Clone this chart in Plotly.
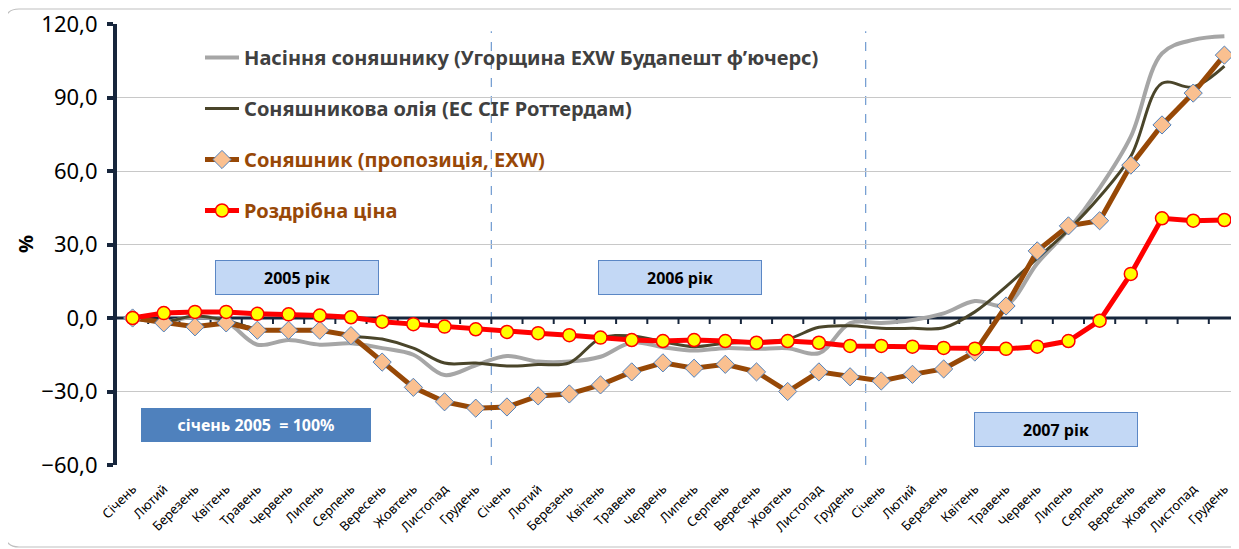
import plotly.graph_objects as go

months = ["Січень", "Лютий", "Березень", "Квітень", "Травень", "Червень", "Липень",
          "Серпень", "Вересень", "Жовтень", "Листопад", "Грудень"]
categories = months * 3

seeds = [0, -1.6, 0.5, -1.6, -10.9, -9.0, -10.9, -10.3, -12.3, -15.0, -23.3, -19.3,
         -15.5, -17.8, -17.8, -15.8, -10.0, -11.9, -13.3, -12.3, -12.6, -12.3, -14.4, -2.1,
         -2.0, -0.8, 1.9, 6.9, 5.3, 22.3, 36.0, 53.0, 74.0, 108.0, 113.5, 115.0]
oil = [0, -1.5, 0.8, -1.0, -4.5, -4.8, -5.0, -7.3, -8.6, -12.3, -18.4, -18.4,
       -19.6, -19.0, -18.3, -8.3, -7.3, -9.7, -11.7, -10.3, -9.7, -8.6, -3.8, -3.2,
       -4.2, -4.2, -4.0, 2.5, 12.8, 24.3, 35.9, 49.5, 66.0, 95.8, 94.3, 102.8]
sunflower = [0, -2.0, -3.6, -2.0, -5.0, -5.0, -5.0, -7.2, -18.0, -28.3, -34.2, -36.8,
             -36.3, -31.8, -31.0, -27.3, -22.0, -18.3, -20.5, -18.9, -22.0, -30.0, -22.0, -24.0,
             -25.7, -23.0, -20.8, -13.9, 4.9, 27.4, 37.6, 39.7, 62.4, 78.8, 91.8, 107.3]
retail = [0, 2.0, 2.5, 2.5, 1.7, 1.5, 1.0, 0.3, -1.5, -2.5, -3.5, -4.6,
          -5.7, -6.2, -7.0, -8.0, -9.0, -9.4, -9.0, -9.4, -10.1, -9.4, -10.1, -11.4,
          -11.4, -11.7, -12.2, -12.5, -12.6, -11.7, -9.4, -1.1, 18.0, 40.7, 39.7, 40.0]

names = ["Насіння соняшнику (Угорщина EXW Будапешт ф’ючерс)",
         "Соняшникова олія (ЕС CIF Роттердам)",
         "Соняшник (пропозиція, EXW)",
         "Роздрібна ціна"]
year_labels = ["2005 рік", "2006 рік", "2007 рік"]
base_label = "січень 2005  = 100%"
y_ticks = [-60, -30, 0, 30, 60, 90, 120]

W, H = 1239, 549
OFF = 8  # page body margin offset
L, R, T, B = 109, 7, 16, 92
PW, PH = W - L - R, H - T - B
FONT = "Noto Sans"
BROWN_TXT = "#984807"
AXIS_C = "#17263C"

x = list(range(len(categories)))
n = len(categories)

fig = go.Figure()
fig.add_trace(go.Scatter(x=x, y=seeds, name=names[0], mode="lines",
                         line=dict(color="#A6A6A6", width=4, shape="spline", smoothing=1.0),
                         legendgroup="a"))
fig.add_trace(go.Scatter(x=x, y=oil, name=names[1], mode="lines",
                         line=dict(color="#4A452A", width=3, shape="spline", smoothing=1.0),
                         legendgroup="b"))
fig.add_trace(go.Scatter(x=x, y=sunflower,
                         name=f"<span style='color:{BROWN_TXT}'>{names[2]}</span>",
                         mode="lines+markers",
                         line=dict(color="#974806", width=5),
                         marker=dict(symbol="diamond", size=14, color="#FAC090",
                                     line=dict(color="#4F81BD", width=1)),
                         legendgroup="c"))
fig.add_trace(go.Scatter(x=x, y=retail,
                         name=f"<span style='color:{BROWN_TXT}'>{names[3]}</span>",
                         mode="lines+markers",
                         line=dict(color="#FF0000", width=5),
                         marker=dict(symbol="circle", size=13, color="#FFFF00",
                                     line=dict(color="#FF0000", width=1.5)),
                         legendgroup="d"))

def S(px, py):
    """screen pixel target -> paper coords"""
    fx, fy = px - OFF, py - OFF
    return (fx - L) / PW, 1 - (fy - T) / PH

shapes = []
# zero axis line with boundary ticks
shapes.append(dict(type="line", xref="x", yref="y", x0=-0.5, x1=n - 0.5, y0=0, y1=0,
                   line=dict(color=AXIS_C, width=3), layer="between"))
for i in range(0, n):
    xb = i + 0.5
    shapes.append(dict(type="line", xref="x", yref="y", ysizemode="pixel", yanchor=0,
                       x0=xb, x1=xb, y0=0, y1=-6,
                       line=dict(color=AXIS_C, width=2), layer="between"))
# year separators
for xb in (11.5, 23.5):
    shapes.append(dict(type="line", xref="x", yref="y", x0=xb, x1=xb, y0=-60, y1=117,
                       line=dict(color="#6F9AD0", width=1.2, dash="dash"), layer="below"))
# legend backdrop (hides gridlines behind legend)
bx0, by1 = S(152, 32)
bx1, by0 = S(862, 236)
shapes.append(dict(type="rect", xref="paper", yref="paper", x0=bx0, x1=bx1, y0=by0, y1=by1,
                   fillcolor="white", line=dict(width=0), layer="between"))
# outer rounded border
x0p, y0p = 5, 9
x1p, y1p = 1260, 547
r = 14
def P(a, b):
    u, v = S(a, b)
    return f"{u:.5f},{v:.5f}"
path = (f"M {P(x0p + r, y0p)} L {P(x1p, y0p)} L {P(x1p, y1p)} L {P(x0p + r, y1p)} "
        f"Q {P(x0p, y1p)} {P(x0p, y1p - r)} L {P(x0p, y0p + r)} Q {P(x0p, y0p)} {P(x0p + r, y0p)} Z")
shapes.append(dict(type="path", xref="paper", yref="paper", path=path,
                   line=dict(color="#BFBFBF", width=1.2), fillcolor="rgba(0,0,0,0)", layer="below"))

annotations = []
box_font = dict(family=FONT, size=16, color="black")
for lbl, xc, yc in zip(year_labels, (5.27, 17.56, 29.6), (16.7, 16.7, -45.5)):
    annotations.append(dict(x=xc, y=yc, xref="x", yref="y", text=f"<b>{lbl}</b>",
                            showarrow=False, font=box_font, bgcolor="#C3D8F5",
                            bordercolor="#5B87C5", borderwidth=1, width=160, height=31,
                            borderpad=1, xanchor="center", yanchor="middle"))
annotations.append(dict(x=3.97, y=-43.7, xref="x", yref="y", text=f"<b>{base_label}</b>",
                        showarrow=False, font=dict(family=FONT, size=16, color="white"),
                        bgcolor="#4F81BD", bordercolor="#4F81BD", borderwidth=1,
                        width=226, height=30, borderpad=1, xanchor="center", yanchor="middle"))
ux, uy = S(25, 244)
annotations.append(dict(x=ux, y=uy, xref="paper", yref="paper", text="<b>%</b>",
                        textangle=-90, showarrow=False,
                        font=dict(family=FONT, size=20, color="black"),
                        xanchor="center", yanchor="middle"))

lx, ly = S(200, 38)

fig.update_layout(
    width=W, height=H,
    margin=dict(l=L, r=R, t=T, b=B, autoexpand=False),
    paper_bgcolor="white", plot_bgcolor="white",
    separators=", ",
    font=dict(family=FONT, color="black"),
    showlegend=True,
    legend=dict(x=lx, y=ly, xanchor="left", yanchor="top",
                bgcolor="rgba(255,255,255,0)", borderwidth=0,
                font=dict(family=FONT, size=20, color="#404040", weight="bold"),
                tracegroupgap=22, traceorder="grouped", itemwidth=34),
    xaxis=dict(range=[-0.5, n - 0.5], tickmode="array", tickvals=x,
               ticktext=categories, tickangle=-45,
               tickfont=dict(family=FONT, size=13, color="black"),
               ticklabelstandoff=13,
               showgrid=False, zeroline=False, showline=False, ticks=""),
    yaxis=dict(range=[-60, 120], tickmode="array", tickvals=y_ticks, tickformat=".1f",
               tickfont=dict(family=FONT, size=22, color="black"),
               ticklabelstandoff=5, ticklabeloverflow="allow",
               showgrid=True, gridcolor="#C8C8C8", gridwidth=1, zeroline=False,
               showline=True, linecolor=AXIS_C, linewidth=4,
               ticks="outside", ticklen=6, tickwidth=4, tickcolor=AXIS_C),
    shapes=shapes, annotations=annotations,
)

fig.write_html("out.html")
